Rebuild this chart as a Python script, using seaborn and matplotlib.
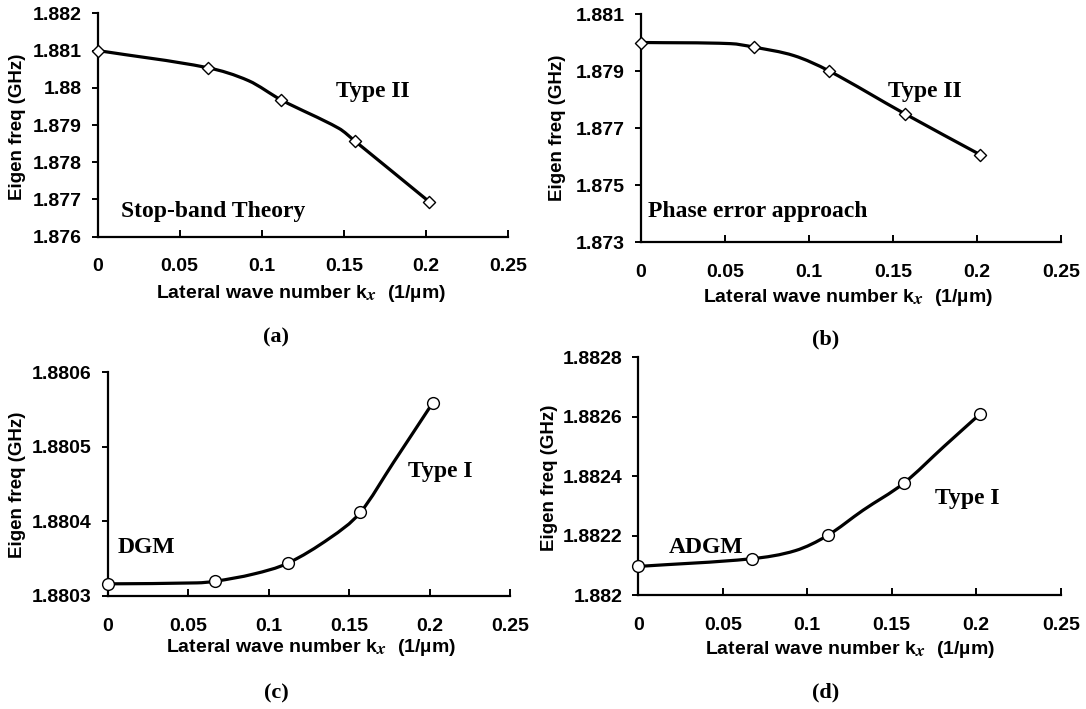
import matplotlib
matplotlib.use("Agg")
import matplotlib.pyplot as plt
import seaborn as sns
import pandas as pd
import numpy as np
from matplotlib.path import Path
from matplotlib.patches import PathPatch
import matplotlib._mathtext as _mt

# ---------------- data ----------------
kx_ticks = [0, 0.05, 0.1, 0.15, 0.2, 0.25]
kx_ticklabels = ["0", "0.05", "0.1", "0.15", "0.2", "0.25"]
kx_marks = [0.0, 0.067, 0.112, 0.157, 0.202]

# (a) Stop-band theory
a_line_kx = [0.0, 0.067, 0.092, 0.112, 0.147, 0.157, 0.202]
a_line_f = [1.88100, 1.88054, 1.88019, 1.87967, 1.87891, 1.87856, 1.87694]
a_mark_f = [1.88100, 1.88054, 1.87967, 1.87856, 1.87694]
a_yticks = [1.876, 1.877, 1.878, 1.879, 1.880, 1.881, 1.882]
a_yticklabels = ["1.876", "1.877", "1.878", "1.879", "1.88", "1.881", "1.882"]

# (b) Phase error approach
b_line_kx = [0.0, 0.0533, 0.067, 0.091, 0.112, 0.157, 0.202]
b_line_f = [1.88000, 1.87996, 1.87984, 1.87954, 1.87900, 1.87750, 1.87606]
b_mark_f = [1.88000, 1.87984, 1.87900, 1.87750, 1.87606]
b_yticks = [1.873, 1.875, 1.877, 1.879, 1.881]
b_yticklabels = ["1.873", "1.875", "1.877", "1.879", "1.881"]

# (c) DGM
c_line_kx = [0.0, 0.0556, 0.067, 0.0908, 0.112, 0.1383, 0.157, 0.1776, 0.202]
c_line_f = [1.8803163, 1.8803176, 1.8803198, 1.8803295, 1.8803440,
            1.8803780, 1.8804120, 1.8804790, 1.8805590]
c_mark_f = [1.8803163, 1.8803198, 1.8803440, 1.8804120, 1.8805590]
c_yticks = [1.8803, 1.8804, 1.8805, 1.8806]
c_yticklabels = ["1.8803", "1.8804", "1.8805", "1.8806"]

# (d) ADGM
d_line_kx = [0.0, 0.067, 0.093, 0.112, 0.133, 0.157, 0.181, 0.202]
d_line_f = [1.8820962, 1.8821220, 1.8821494, 1.8822003, 1.8822852,
            1.8823758, 1.8825003, 1.8826078]
d_mark_f = [1.8820962, 1.8821220, 1.8822003, 1.8823758, 1.8826078]
d_yticks = [1.8820, 1.8822, 1.8824, 1.8826, 1.8828]
d_yticklabels = ["1.882", "1.8822", "1.8824", "1.8826", "1.8828"]

# ---------------- styling ----------------
sns.set_theme(style="white")
plt.rcParams["font.family"] = ["Liberation Sans", "DejaVu Sans"]
plt.rcParams["font.weight"] = "bold"
plt.rcParams["mathtext.fontset"] = "stix"
try:
    _mt.SHRINK_FACTOR = 0.9
except Exception:
    pass

W, H = 1086, 709
fig = plt.figure(figsize=(W / 100, H / 100), dpi=100)
fig.patch.set_facecolor("white")


def px_rect(x0, y_top, x1, y_bot):
    return [x0 / W, 1 - y_bot / H, (x1 - x0) / W, (y_bot - y_top) / H]


def fpos(x, y):
    return x / W, 1 - y / H


def smooth_path(xs, ys):
    """Smoothed connecting line: cubic Hermite (Bezier) segments through the vertices."""
    x = np.asarray(xs, float)
    y = np.asarray(ys, float)
    n = len(x)
    m = np.empty(n)
    m[0] = (y[1] - y[0]) / (x[1] - x[0])
    m[-1] = (y[-1] - y[-2]) / (x[-1] - x[-2])
    for i in range(1, n - 1):
        m[i] = (y[i + 1] - y[i - 1]) / (x[i + 1] - x[i - 1])
    verts = [(x[0], y[0])]
    codes = [Path.MOVETO]
    for i in range(n - 1):
        h = x[i + 1] - x[i]
        verts += [(x[i] + h / 3, y[i] + m[i] * h / 3),
                  (x[i + 1] - h / 3, y[i + 1] - m[i + 1] * h / 3),
                  (x[i + 1], y[i + 1])]
        codes += [Path.CURVE4] * 3
    return Path(verts, codes)


panels = [
    dict(rect=px_rect(97.5, 13.3, 508, 236.7), lk=a_line_kx, lf=a_line_f, mf=a_mark_f,
         ylim=(1.876, 1.882), yt=a_yticks, ytl=a_yticklabels, marker="D", ms=38,
         notes=[("Type II", 0.1675, 1.87989), ("Stop-band Theory", 0.0702, 1.87667)],
         xlabel=(301, 293), ylabel=(17.5, 127), cap=("(a)", 276, 337)),
    dict(rect=px_rect(641, 14, 1061, 242), lk=b_line_kx, lf=b_line_f, mf=b_mark_f,
         ylim=(1.873, 1.881), yt=b_yticks, ytl=b_yticklabels, marker="D", ms=38,
         notes=[("Type II", 0.169, 1.87827), ("Phase error approach", 0.0696, 1.87406)],
         xlabel=(848, 297), ylabel=(557, 128), cap=("(b)", 826, 339)),
    dict(rect=px_rect(107.5, 372.3, 510, 596), lk=c_line_kx, lf=c_line_f, mf=c_mark_f,
         ylim=(1.8803, 1.8806), yt=c_yticks, ytl=c_yticklabels, marker="o", ms=72,
         notes=[("Type I", 0.2068, 1.8804675), ("DGM", 0.024, 1.8803653)],
         xlabel=(311, 648), ylabel=(17.5, 485), cap=("(c)", 276, 693)),
    dict(rect=px_rect(638.3, 357.3, 1060.7, 595), lk=d_line_kx, lf=d_line_f, mf=d_mark_f,
         ylim=(1.8820, 1.8828), yt=d_yticks, ytl=d_yticklabels, marker="o", ms=72,
         notes=[("Type I", 0.1946, 1.8823243), ("ADGM", 0.0402, 1.8821605)],
         xlabel=(850, 650), ylabel=(549, 478), cap=("(d)", 826, 692)),
]

for p in panels:
    ax = fig.add_axes(p["rect"])
    ax.set_facecolor("white")
    ax.add_patch(PathPatch(smooth_path(p["lk"], p["lf"]), facecolor="none",
                           edgecolor="black", linewidth=2.3, zorder=3,
                           capstyle="round", joinstyle="round"))
    mark_df = pd.DataFrame({"kx": kx_marks, "f": p["mf"]})
    sns.scatterplot(data=mark_df, x="kx", y="f", ax=ax, marker=p["marker"], s=p["ms"],
                    facecolor="white", edgecolor="black", linewidth=1.0,
                    zorder=4, clip_on=False)
    ax.set_xlim(0, 0.25)
    ax.set_ylim(*p["ylim"])
    ax.set_xticks(kx_ticks, kx_ticklabels)
    ax.set_yticks(p["yt"], p["ytl"])
    for s in ["top", "right"]:
        ax.spines[s].set_visible(False)
    for s in ["left", "bottom"]:
        ax.spines[s].set_color("black")
        ax.spines[s].set_linewidth(1.6)
    ax.tick_params(axis="x", direction="in", length=5, width=1.4, pad=15.5,
                   labelsize=14, colors="black", bottom=True)
    ax.tick_params(axis="y", direction="out", length=4, width=1.4, pad=7.5,
                   labelsize=14, colors="black", left=True)
    for lab in ax.get_xticklabels() + ax.get_yticklabels():
        lab.set_fontweight("bold")
    ax.set_xlabel("")
    ax.set_ylabel("")
    ax.grid(False)
    for txt, x, y in p["notes"]:
        ax.text(x, y, txt, ha="center", va="center", fontsize=17,
                family="Liberation Serif", fontweight="bold", color="black")
    xx, xy = fpos(*p["xlabel"])
    fig.text(xx, xy, r"Lateral wave number k$_{x}$  (1/µm)", ha="center", va="center",
             fontsize=14, fontweight="bold", color="black")
    yx, yy = fpos(*p["ylabel"])
    fig.text(yx, yy, "Eigen freq (GHz)", ha="center", va="center", rotation=90,
             fontsize=13.5, fontweight="bold", color="black")
    cap, cx, cy = p["cap"]
    cxf, cyf = fpos(cx, cy)
    fig.text(cxf, cyf, cap, ha="center", va="center", fontsize=16,
             family="Liberation Serif", fontweight="bold", color="black")

fig.savefig("out.png", dpi=100, facecolor="white")
